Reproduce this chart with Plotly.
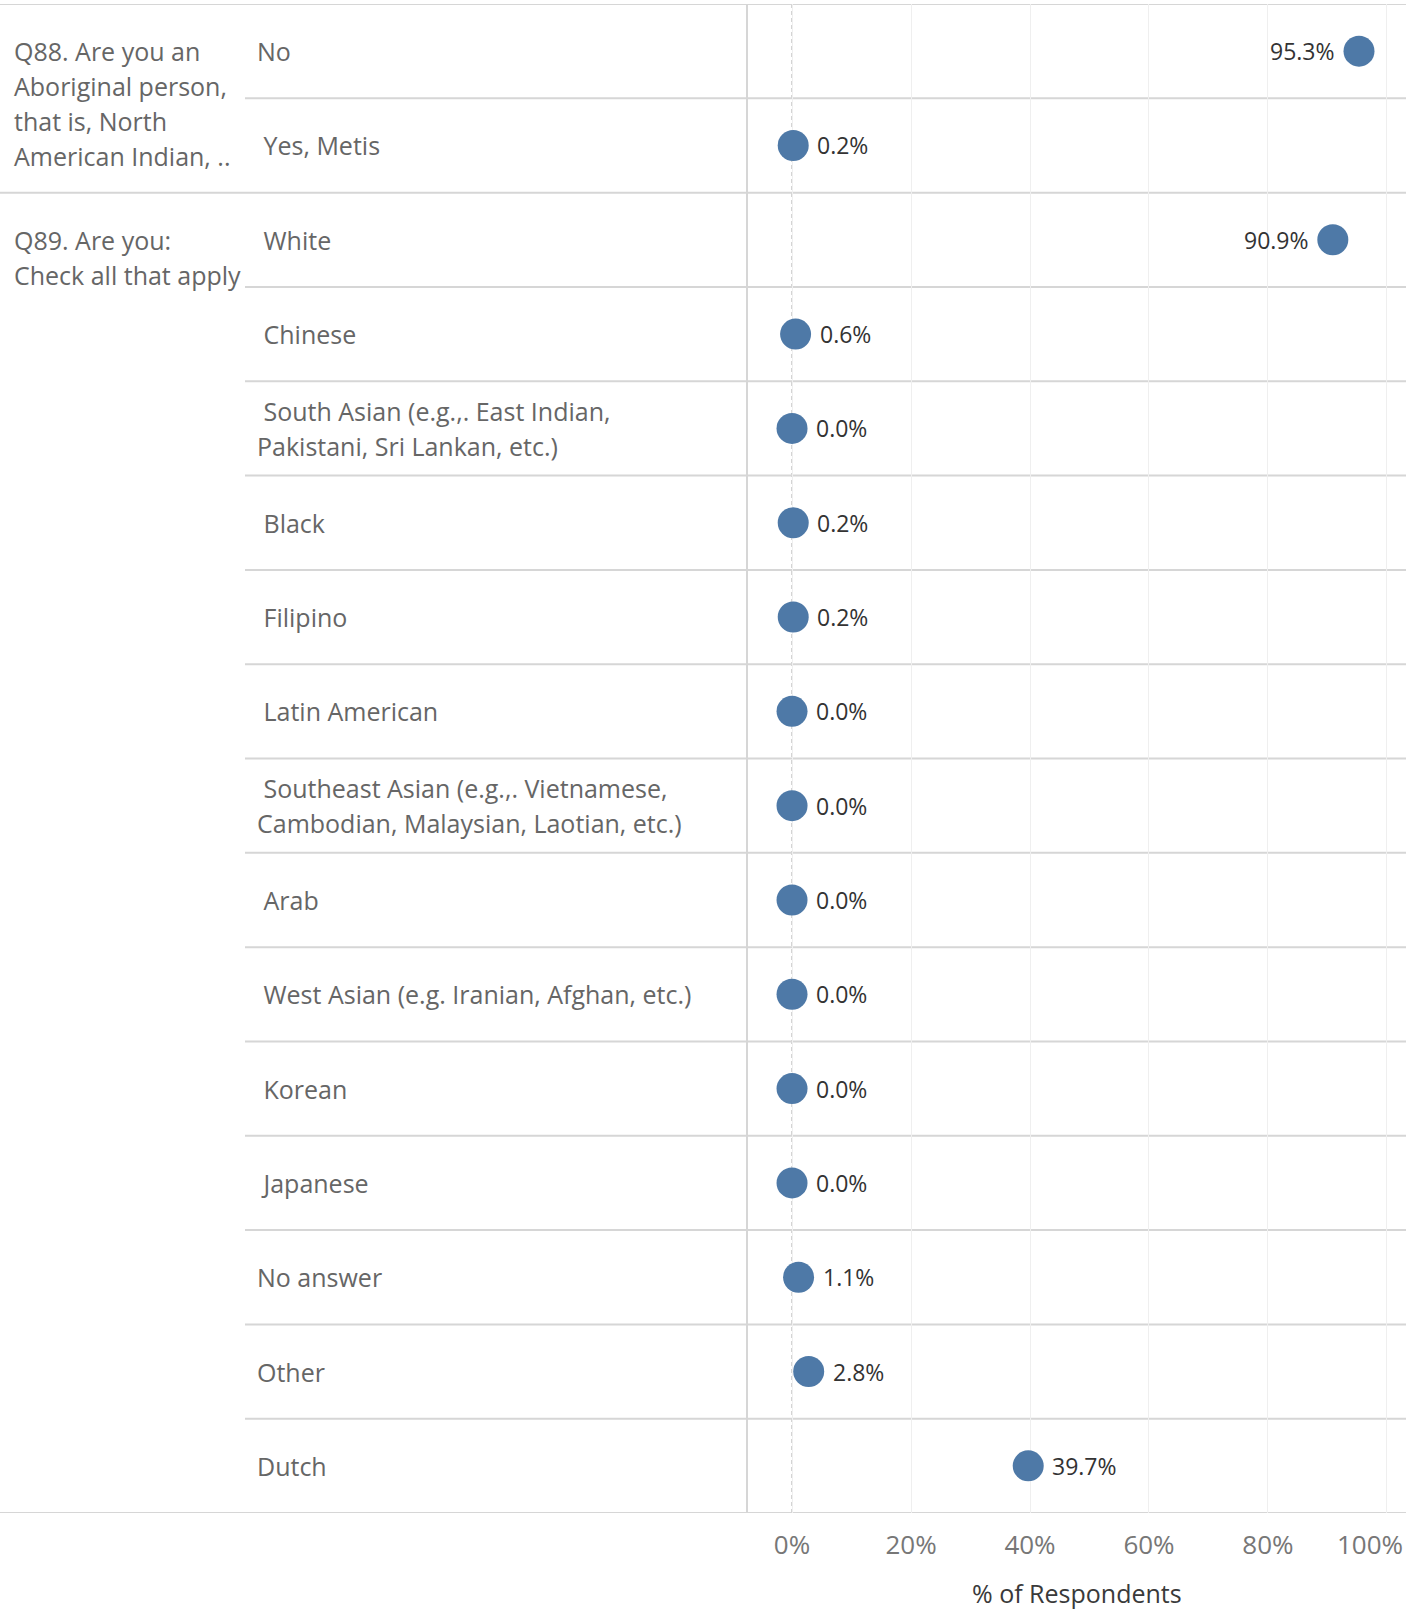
import plotly.graph_objects as go

# ---- data ----
groups = ["Q88", "Q88", "Q89", "Q89", "Q89", "Q89", "Q89", "Q89", "Q89", "Q89",
          "Q89", "Q89", "Q89", "Q89", "Q89", "Q89"]
group_labels = {
    "Q88": ["Q88. Are you an", "Aboriginal person,", "that is, North", "American Indian, .."],
    "Q89": ["Q89. Are you:", "Check all that apply"],
}
categories = [
    ["No"],
    ["\u00a0Yes, Metis"],
    ["\u00a0White"],
    ["\u00a0Chinese"],
    ["\u00a0South Asian (e.g.,. East Indian,", "Pakistani, Sri Lankan, etc.)"],
    ["\u00a0Black"],
    ["\u00a0Filipino"],
    ["\u00a0Latin American"],
    ["\u00a0Southeast Asian (e.g.,. Vietnamese,", "Cambodian, Malaysian, Laotian, etc.)"],
    ["\u00a0Arab"],
    ["\u00a0West Asian (e.g. Iranian, Afghan, etc.)"],
    ["\u00a0Korean"],
    ["\u00a0Japanese"],
    ["No answer"],
    ["Other"],
    ["Dutch"],
]
values = [95.3, 0.2, 90.9, 0.6, 0.0, 0.2, 0.2, 0.0, 0.0, 0.0, 0.0, 0.0, 0.0, 1.1, 2.8, 39.7]
tick_vals = [0, 20, 40, 60, 80, 100]
tick_text = ["0%", "20%", "40%", "60%", "80%", "100%"]

W, H = 1408, 1610
ML, MR, MT, MB = 0, 2, 4, 97
PW = W - ML - MR
plot_left_px = 748
cat_x_px = 255
group_x_px = 12
subline_x_px = 245
LINE_H = 35

FONT = "Open Sans"
LINE = "#d6d6d6"
TICK_FONT = dict(family=FONT, size=26, color="#777777")
LABEL_FONT = dict(family=FONT, size=25, color="#666666")
ids = list(range(len(categories)))

fig = go.Figure()
fig.add_trace(go.Scatter(
    x=values, y=ids, mode="markers",
    marker=dict(size=31, color="#4e79a7"),
    hoverinfo="skip", showlegend=False, cliponaxis=False,
))

annotations = []
# data labels
for i, v in enumerate(values):
    left = v > 80
    annotations.append(dict(
        x=v, y=i, xref="x", yref="y", text=f"{v:.1f}%", showarrow=False,
        xanchor="right" if left else "left", yanchor="middle",
        xshift=-22 if left else 22,
        font=dict(family=FONT, size=23, color="#333333"),
    ))
# category labels (each line as its own text, centred on the row)
for i, lines in enumerate(categories):
    k = len(lines)
    for j, t in enumerate(lines):
        annotations.append(dict(
            x=cat_x_px / PW, y=i, xref="paper", yref="y", text=t, showarrow=False,
            xanchor="left", yanchor="middle", align="left",
            yshift=((k - 1) / 2 - j) * LINE_H,
            font=LABEL_FONT,
        ))
# group labels (top-aligned with the first row of the group)
seen = []
for i, g in enumerate(groups):
    if g not in seen:
        seen.append(g)
        for j, t in enumerate(group_labels[g]):
            annotations.append(dict(
                x=group_x_px / PW, y=i, xref="paper", yref="y", text=t,
                showarrow=False, xanchor="left", yanchor="middle", align="left",
                yshift=-j * LINE_H, font=LABEL_FONT,
            ))
# last tick label, pulled inward to stay inside the view (as in the original)
annotations.append(dict(
    x=tick_vals[-1], y=0, xref="x", yref="paper", text=tick_text[-1], showarrow=False,
    xanchor="right", yanchor="middle", xshift=18, yshift=-31, font=TICK_FONT,
))
# axis title
annotations.append(dict(
    x=(plot_left_px / PW + 1) / 2, y=0, xref="paper", yref="paper",
    text="% of Respondents", showarrow=False, xanchor="center", yanchor="middle",
    yshift=-80, font=dict(family=FONT, size=25, color="#3a3a3a"),
))

shapes = []
# zero dashed line
shapes.append(dict(type="line", xref="x", yref="paper", x0=0, x1=0, y0=0, y1=1,
                   line=dict(color="#c4c4c4", width=1.5, dash="4px,3px"), layer="below"))
# row separators
n = len(categories)
for b in range(n + 1):
    yb = b - 0.5
    if b == 0 or b == n or groups[b] != groups[b - 1]:
        x0 = 0
    else:
        x0 = subline_x_px / PW
    shapes.append(dict(type="line", xref="paper", yref="y", x0=x0, x1=1, y0=yb, y1=yb,
                       line=dict(color=LINE, width=2), layer="below"))

fig.update_layout(
    width=W, height=H,
    margin=dict(l=ML, r=MR, t=MT, b=MB),
    paper_bgcolor="white", plot_bgcolor="white",
    xaxis=dict(
        domain=[plot_left_px / PW, 1], range=[-7.4, 103.2],
        tickvals=tick_vals, ticktext=tick_text[:-1] + [""], showgrid=True,
        gridcolor="#efefef", gridwidth=1, zeroline=False, showline=False, ticks="",
        ticklabelstandoff=14, tickfont=TICK_FONT, fixedrange=True,
    ),
    yaxis=dict(
        range=[n - 0.5, -0.5], showticklabels=False, showgrid=False, zeroline=False,
        showline=True, linecolor=LINE, linewidth=2, ticks="", fixedrange=True,
    ),
    annotations=annotations, shapes=shapes,
)

fig.write_html("out.html", config={"displayModeBar": False},
               post_script="document.body.style.margin='0px';")
